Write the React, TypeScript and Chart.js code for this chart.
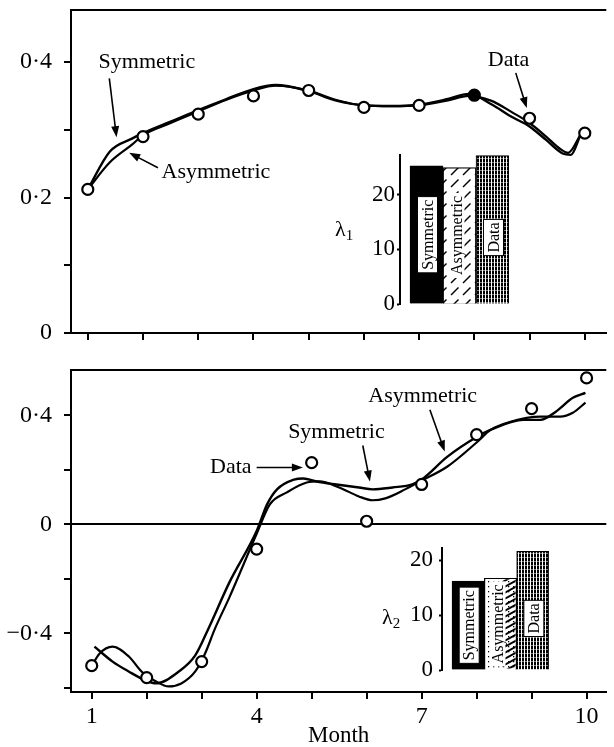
import React, { useEffect, useRef } from 'react';
import { Chart, registerables } from 'chart.js';
Chart.register(...registerables);

const SERIF = '"Liberation Serif", "Times New Roman", serif';

// ---------- shared ----------
const months = [1, 2, 3, 4, 5, 6, 7, 8, 9, 10];
const labeledMonths = [1, 4, 7, 10];

// ---------- panel 1 (upper) ----------
const topData = [0.212, 0.29, 0.323, 0.35, 0.358, 0.333, 0.336, 0.351, 0.317, 0.295];
const topSymMonths = [1.0, 1.4, 1.8, 2.0, 2.5, 3.0, 3.5, 4.0, 4.4, 5.0, 5.5, 6.0, 6.5, 7.0, 7.5, 7.9, 8.3, 8.7, 9.0, 9.3, 9.6, 9.75, 9.92];
const topSymValues = [0.212, 0.268, 0.287, 0.295, 0.312, 0.329, 0.345, 0.36, 0.366, 0.357, 0.343, 0.336, 0.335, 0.337, 0.345, 0.353, 0.338, 0.318, 0.305, 0.285, 0.265, 0.263, 0.292];
const topAsyMonths = [1.0, 1.4, 1.8, 2.0, 2.5, 3.0, 3.5, 4.0, 4.4, 5.0, 5.5, 6.0, 6.5, 7.0, 7.5, 7.9, 8.3, 8.7, 9.0, 9.3, 9.55, 9.7, 9.92];
const topAsyValues = [0.212, 0.252, 0.278, 0.292, 0.31, 0.327, 0.344, 0.358, 0.365, 0.358, 0.344, 0.336, 0.335, 0.336, 0.343, 0.35, 0.343, 0.325, 0.31, 0.29, 0.272, 0.266, 0.292];
const topYTicks = [0, 0.1, 0.2, 0.3, 0.4];
const topYLabeled = [0, 0.2, 0.4];

// ---------- panel 2 (lower) ----------
const botData = [-0.519, -0.563, -0.504, -0.091, 0.226, 0.011, 0.146, 0.329, 0.424, 0.537];
const botSymMonths = [1.05, 1.38, 1.68, 1.99, 2.17, 2.58, 2.88, 3.12, 3.5, 4.0, 4.19, 4.37, 4.68, 4.85, 5.09, 5.45, 5.86, 6.11, 6.47, 6.83, 7.0, 7.47, 8.0, 8.26, 8.85, 9.16, 9.44, 9.75, 9.98];
const botSymValues = [-0.449, -0.504, -0.541, -0.574, -0.584, -0.541, -0.482, -0.384, -0.215, -0.025, 0.073, 0.128, 0.164, 0.168, 0.157, 0.146, 0.135, 0.128, 0.135, 0.146, 0.164, 0.248, 0.32, 0.347, 0.383, 0.383, 0.413, 0.464, 0.482];
const botAsyMonths = [1.0, 1.14, 1.38, 1.68, 1.91, 2.17, 2.4, 2.63, 2.88, 3.06, 3.24, 3.5, 4.0, 4.24, 4.55, 4.91, 5.14, 5.5, 5.86, 6.11, 6.34, 6.7, 6.93, 7.47, 8.0, 8.26, 8.6, 9.16, 9.52, 9.75, 9.98];
const botAsyValues = [-0.52, -0.475, -0.449, -0.486, -0.541, -0.577, -0.595, -0.584, -0.541, -0.475, -0.384, -0.27, -0.035, 0.073, 0.117, 0.153, 0.157, 0.135, 0.102, 0.088, 0.095, 0.128, 0.153, 0.212, 0.3, 0.347, 0.375, 0.395, 0.395, 0.409, 0.446];
const botYTicks = [-0.6, -0.4, -0.2, 0, 0.2, 0.4];
const botYLabeled = [-0.4, 0, 0.4];

// ---------- insets ----------
const barCategories = ['Symmetric', 'Asymmetric', 'Data'];
const barPositions = [1, 2, 3];
const lambda1Values = [25.3, 25.0, 27.2];
const lambda2Values = [16.2, 16.7, 21.6];
const insetTicks = [0, 10, 20];

// ---------- annotations (data coordinates) ----------
const topNotes = [
  { text: 'Symmetric', tx: 2.07, ty: 0.399, ax0: 1.39, ay0: 0.376, ax1: 1.52, ay1: 0.289 },
  { text: 'Asymmetric', tx: 3.32, ty: 0.238, ax0: 2.27, ay0: 0.244, ax1: 1.75, ay1: 0.266 },
  { text: 'Data', tx: 8.62, ty: 0.403, ax0: 8.75, ay0: 0.384, ax1: 8.95, ay1: 0.332 },
];
const botNotes = [
  { text: 'Data', tx: 3.53, ty: 0.208, ax0: 4.0, ay0: 0.208, ax1: 4.84, ay1: 0.208 },
  { text: 'Symmetric', tx: 5.45, ty: 0.336, ax0: 5.93, ay0: 0.289, ax1: 6.06, ay1: 0.157 },
  { text: 'Asymmetric', tx: 7.02, ty: 0.468, ax0: 7.15, ay0: 0.42, ax1: 7.42, ay1: 0.267 },
];

const pts = (xs: number[], ys: number[]) => xs.map((x, i) => ({ x, y: ys[i] }));
const near = (arr: number[], v: number) => arr.some((a) => Math.abs(a - v) < 1e-9);
const fmtVal = (v: number) =>
  Math.abs(v) < 1e-9 ? '0' : (v < 0 ? '\u2212' : '') + '0\u00b7' + Math.round(Math.abs(v) * 10);

function zeroPad(s: any) {
  s.paddingTop = 0; s.paddingBottom = 0; s.paddingLeft = 0; s.paddingRight = 0;
}

function drawArrow(ctx: CanvasRenderingContext2D, x0: number, y0: number, x1: number, y1: number) {
  const ang = Math.atan2(y1 - y0, x1 - x0);
  const L = 11, W = 4;
  ctx.lineWidth = 1.6;
  ctx.beginPath();
  ctx.moveTo(x0, y0);
  ctx.lineTo(x1 - Math.cos(ang) * L * 0.8, y1 - Math.sin(ang) * L * 0.8);
  ctx.stroke();
  ctx.beginPath();
  ctx.moveTo(x1, y1);
  ctx.lineTo(x1 - L * Math.cos(ang) + W * Math.sin(ang), y1 - L * Math.sin(ang) - W * Math.cos(ang));
  ctx.lineTo(x1 - L * Math.cos(ang) - W * Math.sin(ang), y1 - L * Math.sin(ang) + W * Math.cos(ang));
  ctx.closePath();
  ctx.fill();
}

function notesPlugin(notes: any[]) {
  return {
    id: 'notes',
    afterDatasetsDraw(chart: any) {
      const { ctx, chartArea, scales } = chart;
      const x = scales.x, y = scales.y;
      ctx.save();
      ctx.strokeStyle = '#000';
      ctx.fillStyle = '#000';
      ctx.lineWidth = 2;
      ctx.beginPath();
      ctx.moveTo(chartArea.left, chartArea.top);
      ctx.lineTo(chartArea.right, chartArea.top);
      ctx.stroke();
      ctx.font = `22px ${SERIF}`;
      ctx.textAlign = 'center';
      ctx.textBaseline = 'middle';
      for (const n of notes) {
        ctx.fillText(n.text, x.getPixelForValue(n.tx), y.getPixelForValue(n.ty));
        drawArrow(ctx, x.getPixelForValue(n.ax0), y.getPixelForValue(n.ay0), x.getPixelForValue(n.ax1), y.getPixelForValue(n.ay1));
      }
      ctx.restore();
    },
  };
}

function mainConfig(o: any) {
  return {
    type: 'line',
    data: {
      datasets: [
        {
          data: pts(months, o.dataVals),
          showLine: false,
          pointRadius: 5.5,
          pointBorderWidth: 2.2,
          pointBorderColor: '#000',
          pointBackgroundColor: (c: any) => (c.dataIndex === o.filled ? '#000' : '#fff'),
        },
        { data: o.sym, borderColor: '#000', borderWidth: 2.4, pointRadius: 0, cubicInterpolationMode: 'monotone', fill: false },
        { data: o.asy, borderColor: '#000', borderWidth: 2.2, pointRadius: 0, cubicInterpolationMode: 'monotone', fill: false },
      ],
    },
    options: {
      animation: false,
      responsive: false,
      events: [],
      layout: { padding: { top: o.padTop, left: 0, right: 0, bottom: 0 } },
      plugins: { legend: { display: false }, tooltip: { enabled: false } },
      scales: {
        x: {
          type: 'linear',
          min: o.xMin,
          max: o.xMax,
          afterBuildTicks: (s: any) => { s.ticks = months.map((v) => ({ value: v })); },
          afterFit: (s: any) => { s.height = o.xHeight; zeroPad(s); },
          ticks: {
            display: o.showXLabels,
            autoSkip: false,
            maxRotation: 0,
            padding: 3,
            color: '#000',
            font: { family: SERIF, size: 24 },
            callback: (v: number) => (near(labeledMonths, v) ? String(v) : ''),
          },
          title: o.showXLabels
            ? { display: true, text: 'Month', color: '#000', font: { family: SERIF, size: 23, lineHeight: 1 }, padding: { top: 0, bottom: 0 } }
            : { display: false },
          grid: { drawOnChartArea: false, drawTicks: true, tickLength: 7, tickColor: '#000', lineWidth: 2, tickWidth: 2 },
          border: { display: true, color: '#000', width: 2 },
        },
        y: {
          type: 'linear',
          min: o.yMin,
          max: o.yMax,
          afterBuildTicks: (s: any) => { s.ticks = o.yTicks.map((v: number) => ({ value: v })); },
          afterFit: (s: any) => { s.width = 71; zeroPad(s); },
          ticks: {
            padding: 12,
            color: '#000',
            font: { family: SERIF, size: 24 },
            callback: (v: number) => (near(o.yLabeled, v) ? fmtVal(v) : ''),
          },
          grid: {
            drawOnChartArea: !!o.zeroLine,
            drawTicks: true,
            tickLength: 7,
            tickColor: '#000',
            tickWidth: 2,
            lineWidth: 2,
            color: (c: any) => (c.tick && Math.abs(c.tick.value) < 1e-9 ? '#000' : 'rgba(0,0,0,0)'),
          },
          border: { display: true, color: '#000', width: 2 },
        },
      },
    },
    plugins: [notesPlugin(o.notes)],
  };
}

function makePattern(kind: string): CanvasPattern | string {
  const c = document.createElement('canvas');
  const g = c.getContext('2d') as CanvasRenderingContext2D;
  if (kind === 'dash') {
    c.width = 12; c.height = 12;
    g.fillStyle = '#fff'; g.fillRect(0, 0, 12, 12);
    g.strokeStyle = '#000'; g.lineWidth = 1.5;
    g.beginPath(); g.moveTo(1, 11); g.lineTo(8.5, 3.5); g.stroke();
  } else if (kind === 'dot') {
    c.width = 5; c.height = 5;
    g.fillStyle = '#fff'; g.fillRect(0, 0, 5, 5);
    g.fillStyle = '#000'; g.fillRect(1, 1, 1.3, 1.3);
  } else {
    c.width = 3; c.height = 4;
    g.fillStyle = '#000'; g.fillRect(0, 0, 3, 4);
    g.fillStyle = '#fff';
    g.fillRect(2, 0, 1, 4);
    g.fillRect(0, 2, 2, 0.5);
  }
  return g.createPattern(c, 'repeat') as CanvasPattern;
}

function insetPlugin(o: any) {
  return {
    id: 'inset',
    afterDatasetsDraw(chart: any) {
      const { ctx, chartArea } = chart;
      const meta = chart.getDatasetMeta(0);
      ctx.save();
      meta.data.forEach((bar: any, i: number) => {
        const { x, y, base, width } = bar.getProps(['x', 'y', 'base', 'width'], true);
        const left = x - width / 2;
        if (i === 1 && o.asyDotted) {
          ctx.save();
          ctx.beginPath();
          ctx.rect(left + width * 0.55, y + 1, width * 0.45 - 1, base - y - 2);
          ctx.clip();
          ctx.strokeStyle = '#000';
          ctx.lineWidth = 2;
          for (let k = -40; k < base - y + 40; k += 6) {
            ctx.beginPath();
            ctx.moveTo(left + width * 0.55, y + k + 8);
            ctx.lineTo(left + width, y + k);
            ctx.stroke();
          }
          ctx.restore();
        }
        const text = barCategories[i];
        ctx.font = `16px ${SERIF}`;
        const tw = ctx.measureText(text).width;
        const cy = (y + base) / 2 + (i === 2 ? 8 : 0);
        const cx = x + (i === 1 ? -3 : 1);
        const bw = i === 1 ? 16 : 20;
        ctx.fillStyle = '#fff';
        ctx.fillRect(cx - bw / 2, cy - tw / 2 - 3, bw, tw + 6);
        ctx.strokeStyle = '#000';
        ctx.lineWidth = 1;
        if (i !== 1) ctx.strokeRect(cx - bw / 2, cy - tw / 2 - 3, bw, tw + 6);
        ctx.translate(cx, cy);
        ctx.rotate(-Math.PI / 2);
        ctx.fillStyle = '#000';
        ctx.textAlign = 'center';
        ctx.textBaseline = 'middle';
        ctx.fillText(text, 0, 1);
        ctx.setTransform(1, 0, 0, 1, 0, 0);
      });
      const yy = chart.scales.y.getPixelForValue(o.lambdaAt);
      const lx = chartArea.left - o.lambdaDx;
      ctx.fillStyle = '#000';
      ctx.textAlign = 'left';
      ctx.textBaseline = 'middle';
      ctx.font = `22px ${SERIF}`;
      ctx.fillText('\u03bb', lx, yy);
      const lw = ctx.measureText('\u03bb').width;
      ctx.font = `15px ${SERIF}`;
      ctx.fillText(o.sub, lx + lw, yy + 6);
      ctx.restore();
    },
  };
}

function insetConfig(o: any) {
  return {
    type: 'bar',
    data: {
      datasets: [
        {
          data: o.values.map((v: number, i: number) => ({ x: barPositions[i], y: v })),
          backgroundColor: ['#000', makePattern(o.asyDotted ? 'dot' : 'dash'), makePattern('data')],
          borderColor: '#000',
          borderWidth: 1.2,
          barPercentage: 1,
          categoryPercentage: 1,
        },
      ],
    },
    options: {
      animation: false,
      responsive: false,
      events: [],
      layout: { padding: o.padding },
      plugins: { legend: { display: false }, tooltip: { enabled: false } },
      scales: {
        x: {
          type: 'linear',
          display: false,
          offset: false,
          grid: { offset: false },
          min: o.xMin,
          max: 3.5,
          afterBuildTicks: (s: any) => { s.ticks = barPositions.map((v) => ({ value: v })); },
        },
        y: {
          min: 0,
          max: o.yMax,
          afterBuildTicks: (s: any) => { s.ticks = insetTicks.map((v) => ({ value: v })); },
          afterFit: (s: any) => { s.width = 70; zeroPad(s); },
          ticks: { padding: o.tickPad, color: '#000', font: { family: SERIF, size: 23 } },
          grid: { drawOnChartArea: false, drawTicks: true, tickLength: 3, tickColor: '#000', tickWidth: 2 },
          border: { display: true, color: '#000', width: 2 },
        },
      },
    },
    plugins: [insetPlugin(o)],
  };
}

function ChartBox({ make, left, top, width, height }: any) {
  const ref = useRef<HTMLCanvasElement | null>(null);
  useEffect(() => {
    const chart = new Chart(ref.current as HTMLCanvasElement, make());
    return () => chart.destroy();
  }, []);
  return (
    <canvas
      ref={ref}
      width={width}
      height={height}
      style={{ position: 'absolute', left, top, width, height }}
    />
  );
}

export default function App() {
  return (
    <div style={{ position: 'absolute', left: 0, top: 0, width: 614, height: 747, background: '#fff', overflow: 'hidden' }}>
      <ChartBox
        left={0} top={0} width={614} height={345}
        make={() =>
          mainConfig({
            dataVals: topData,
            sym: pts(topSymMonths, topSymValues),
            asy: pts(topAsyMonths, topAsyValues),
            filled: 7,
            xMin: 0.696, xMax: 10.39,
            yMin: 0, yMax: 0.4768,
            yTicks: topYTicks, yLabeled: topYLabeled,
            showXLabels: false, padTop: 10, xHeight: 12,
            zeroLine: false, notes: topNotes,
          })
        }
      />
      <ChartBox
        left={0} top={350} width={614} height={397}
        make={() =>
          mainConfig({
            dataVals: botData,
            sym: pts(botSymMonths, botSymValues),
            asy: pts(botAsyMonths, botAsyValues),
            filled: -1,
            xMin: 0.6235, xMax: 10.3585,
            yMin: -0.6155, yMax: 0.566,
            yTicks: botYTicks, yLabeled: botYLabeled,
            showXLabels: true, padTop: 20, xHeight: 55,
            zeroLine: true, notes: botNotes,
          })
        }
      />
      <ChartBox
        left={330} top={140} width={190} height={170}
        make={() =>
          insetConfig({
            values: lambda1Values, asyDotted: false,
            padding: { top: 15, bottom: 6, left: 0, right: 11 },
            xMin: 0.197, yMax: 27.3, tickPad: 2,
            lambdaAt: 13.6, lambdaDx: 65, sub: '1',
          })
        }
      />
      <ChartBox
        left={372} top={535} width={190} height={145}
        make={() =>
          insetConfig({
            values: lambda2Values, asyDotted: true,
            padding: { top: 13, bottom: 10, left: 0, right: 13 },
            xMin: 0.19, yMax: 22.2, tickPad: 6,
            lambdaAt: 9.5, lambdaDx: 60, sub: '2',
          })
        }
      />
    </div>
  );
}
